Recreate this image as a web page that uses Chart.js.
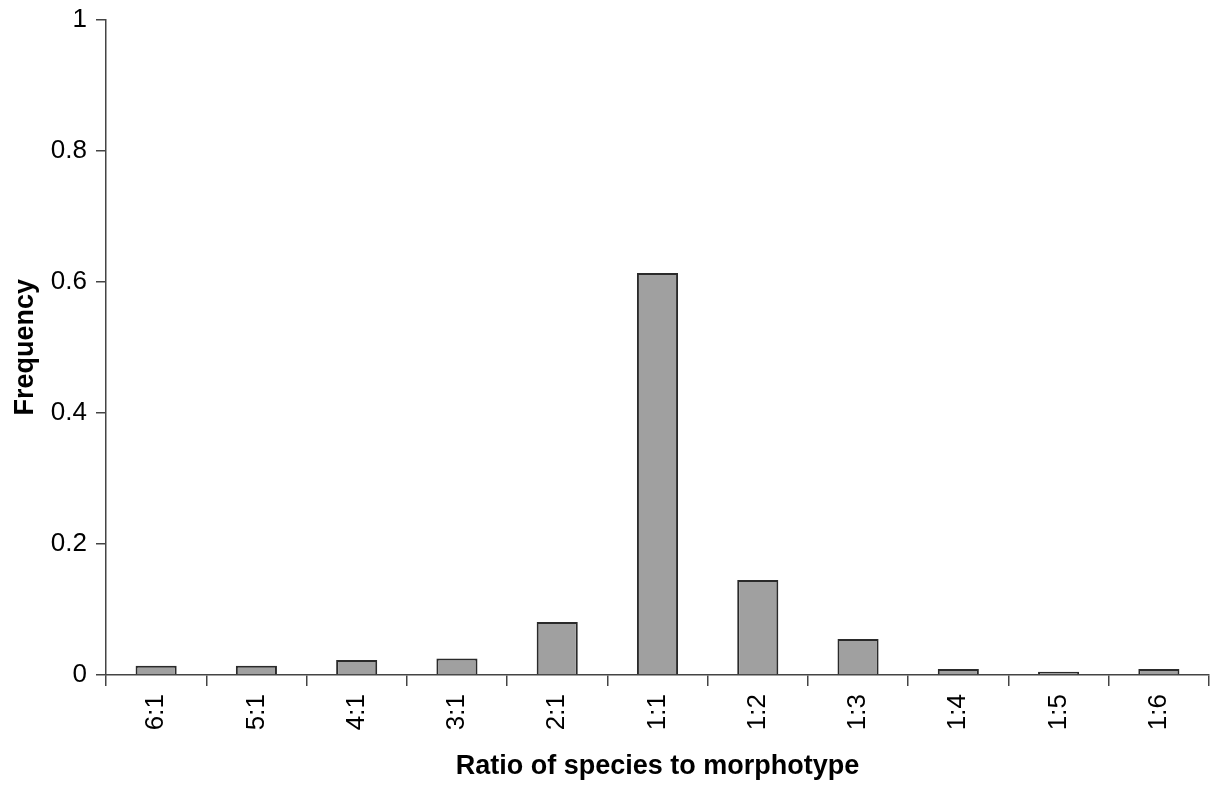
<!DOCTYPE html>
<html>
<head>
<meta charset="utf-8">
<script src="https://cdn.jsdelivr.net/npm/chart.js@4/dist/chart.umd.min.js"></script>
<style>
html,body{margin:0;padding:0;background:#fff;}
#wrap{width:1214px;height:785px;}
</style>
</head>
<body>
<div id="wrap"><canvas id="c" width="1214" height="785"></canvas></div>
<script>
const categories = ['6:1','5:1','4:1','3:1','2:1','1:1','1:2','1:3','1:4','1:5','1:6'];
const frequency = [0.014, 0.014, 0.023, 0.025, 0.081, 0.613, 0.145, 0.055, 0.009, 0.005, 0.009];
const yTickLabels = ['0','0.2','0.4','0.6','0.8','1'];
const xTitle = 'Ratio of species to morphotype';
const yTitle = 'Frequency';

const axisColor = '#444';
const font = 'Liberation Sans, Arial, sans-serif';

new Chart(document.getElementById('c'), {
  type: 'bar',
  data: {
    labels: categories,
    datasets: [{
      data: frequency,
      backgroundColor: '#a0a0a0',
      borderColor: '#2a2a2a',
      borderWidth: 2,
      borderSkipped: 'bottom',
      categoryPercentage: 1.0,
      barPercentage: 0.41
    }]
  },
  options: {
    responsive: false,
    animation: false,
    layout: { padding: { left: 9, right: 5, top: 8, bottom: 2 } },
    plugins: { legend: { display: false }, tooltip: { enabled: false } },
    scales: {
      x: {
        grid: { offset: true, drawOnChartArea: false, tickLength: 11, color: axisColor, lineWidth: 1.5 },
        border: { color: axisColor, width: 1.5 },
        ticks: { minRotation: 90, maxRotation: 90, color: '#000', padding: 8, font: { family: font, size: 26 } },
        title: { display: true, text: xTitle, color: '#000', font: { family: font, size: 27, weight: 'bold' }, padding: { top: 8, bottom: 0 } },
        afterFit: (s) => { s.height = 108; }
      },
      y: {
        min: 0, max: 1,
        ticks: { stepSize: 0.2, color: '#000', padding: 9, font: { family: font, size: 26, lineHeight: 0.8 },
          callback: (v, i) => yTickLabels[i] },
        grid: { drawOnChartArea: false, tickLength: 10, color: axisColor, lineWidth: 1.5 },
        border: { color: axisColor, width: 1.5 },
        title: { display: true, text: yTitle, color: '#000', font: { family: font, size: 27, weight: 'bold' }, padding: { top: 0, bottom: 4 } },
        afterFit: (s) => { s.width = 97; }
      }
    }
  }
});
</script>
</body>
</html>
